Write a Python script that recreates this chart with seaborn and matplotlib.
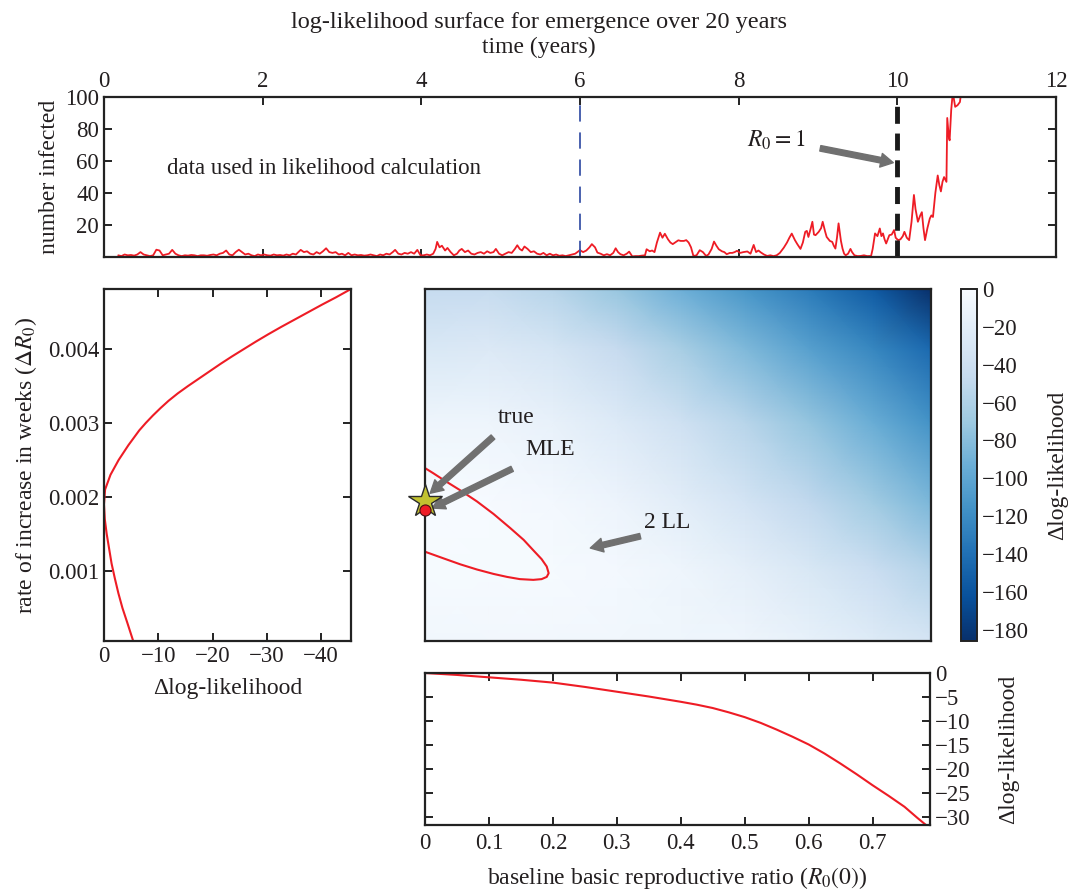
import numpy as np
import pandas as pd
import seaborn as sns
import matplotlib.pyplot as plt

# number infected over time
years = [0.18, 0.22, 0.26, 0.30, 0.34, 0.38, 0.42, 0.46, 0.50, 0.54, 0.58, 0.62, 0.66, 0.70, 0.74, 0.78,
         0.82, 0.86, 0.90, 0.94, 0.98, 1.02, 1.06, 1.10, 1.14, 1.18, 1.22, 1.26, 1.30, 1.34, 1.38, 1.42,
         1.46, 1.50, 1.54, 1.58, 1.62, 1.66, 1.70, 1.74, 1.78, 1.82, 1.86, 1.90, 1.94, 1.98, 2.02, 2.06,
         2.10, 2.14, 2.18, 2.22, 2.26, 2.30, 2.34, 2.38, 2.42, 2.45, 2.48, 2.52, 2.56, 2.60, 2.64, 2.68,
         2.72, 2.76, 2.80, 2.84, 2.88, 2.92, 2.96, 3.00, 3.04, 3.08, 3.12, 3.16, 3.20, 3.24, 3.28, 3.32,
         3.36, 3.40, 3.44, 3.48, 3.52, 3.56, 3.60, 3.64, 3.67, 3.71, 3.75, 3.79, 3.83, 3.87, 3.91, 3.95,
         3.99, 4.03, 4.07, 4.11, 4.15, 4.18, 4.20, 4.23, 4.26, 4.30, 4.33, 4.37, 4.41, 4.45, 4.48, 4.51,
         4.55, 4.59, 4.63, 4.67, 4.71, 4.75, 4.79, 4.83, 4.87, 4.91, 4.94, 4.98, 5.02, 5.06, 5.10, 5.14,
         5.18, 5.21, 5.24, 5.27, 5.30, 5.34, 5.38, 5.42, 5.46, 5.50, 5.54, 5.58, 5.62, 5.66, 5.70, 5.74,
         5.78, 5.82, 5.86, 5.90, 5.94, 6.00, 6.04, 6.08, 6.12, 6.15, 6.19, 6.22, 6.26, 6.30, 6.34, 6.38,
         6.42, 6.45, 6.48, 6.51, 6.55, 6.59, 6.62, 6.66, 6.70, 6.74, 6.78, 6.82, 6.84, 6.88, 6.91, 6.94,
         6.97, 7.01, 7.04, 7.07, 7.11, 7.14, 7.17, 7.20, 7.24, 7.27, 7.31, 7.34, 7.37, 7.40, 7.43, 7.47,
         7.51, 7.55, 7.59, 7.62, 7.66, 7.69, 7.72, 7.75, 7.79, 7.82, 7.85, 7.89, 7.92, 7.95, 7.98, 8.02,
         8.06, 8.11, 8.15, 8.19, 8.22, 8.25, 8.28, 8.32, 8.36, 8.40, 8.44, 8.48, 8.52, 8.57, 8.61, 8.64,
         8.67, 8.71, 8.74, 8.78, 8.81, 8.84, 8.86, 8.88, 8.91, 8.93, 8.95, 8.97, 9.01, 9.04, 9.06, 9.09,
         9.11, 9.15, 9.18, 9.20, 9.22, 9.24, 9.26, 9.29, 9.31, 9.33, 9.35, 9.38, 9.41, 9.43, 9.46, 9.50,
         9.54, 9.58, 9.62, 9.67, 9.69, 9.72, 9.75, 9.78, 9.80, 9.82, 9.84, 9.86, 9.88, 9.90, 9.93, 9.96,
         9.98, 10.01, 10.04, 10.07, 10.09, 10.12, 10.15, 10.18, 10.21, 10.23, 10.26, 10.29, 10.31, 10.33,
         10.35, 10.38, 10.41, 10.43, 10.45, 10.48, 10.51, 10.53, 10.55, 10.57, 10.59, 10.62, 10.63, 10.65,
         10.66, 10.68, 10.70, 10.73, 10.76, 10.79, 10.81, 10.84]
infected = [1, 0.5, 1.5, 1, 1.2, 0.8, 1.5, 3, 1.5, 1, 0.5, 1, 4.5, 4, 1, 1.5,
            2, 4.4, 2, 1, 0.5, 1, 0.8, 1.2, 1, 0.5, 1, 1, 0.7, 1.2, 1.5, 1,
            2, 2.5, 4, 1.5, 1, 3, 4.5, 3, 1.5, 2, 1, 0.5, 1.5, 1, 1.5, 1,
            0.8, 1.5, 1, 1.2, 0.8, 1.5, 1, 2, 1.5, 3, 4.4, 3, 3.5, 2, 1.5, 3,
            2, 3.5, 5.4, 3, 2.5, 3, 1.5, 2, 1, 2.5, 1, 1.5, 1, 1.2, 0.8, 1,
            1.5, 1, 0.5, 1.5, 1, 2, 1.5, 3, 4.4, 2, 1.5, 2.5, 2, 3, 2, 4.4,
            1, 1, 1.5, 1, 2, 5, 9.4, 6, 7, 4, 5.6, 3, 1, 2, 4, 5,
            3, 4, 2, 1.5, 2.5, 3, 2, 3.5, 2.5, 3, 5, 2, 1, 2, 3, 2.5,
            5, 7.3, 5, 4, 6.5, 5, 3, 3.5, 2, 1.5, 2.5, 1, 2, 1, 1.5, 0.7,
            1, 0.5, 1, 1.5, 2, 4.2, 3, 4, 6, 8, 6, 2.7, 2, 1, 1.7, 1,
            2.5, 5.4, 3, 1.7, 1, 2, 3.3, 0.3, 0.5, 0.5, 0.8, 1, 4.8, 3.5, 4, 3,
            9, 15.2, 12, 14.5, 11, 9, 8, 9, 10.4, 10, 10, 10.5, 9, 6, 0.6, 1,
            4.2, 3, 0.6, 1.5, 5, 9.6, 7, 4.8, 3.5, 3, 1.7, 2.5, 2.5, 3, 3.8, 2.5,
            3, 3.4, 2, 7.5, 3, 4, 2.8, 1.5, 0.6, 1, 0.5, 1, 2.5, 5.8, 9, 12,
            14.6, 10.5, 8, 5, 9, 15.7, 16.3, 12.5, 18, 22, 14, 13.6, 15.7, 18, 22, 16,
            12.5, 10, 9.4, 7, 5.2, 12, 21, 10, 5.2, 2, 1, 2, 5, 3, 1, 0.5,
            0.6, 1, 0.5, 0.6, 5, 14.7, 13, 17.8, 13, 14.7, 11, 8.4, 11, 13.6, 14, 16.8,
            12, 10.5, 11, 13, 15.7, 12, 10.5, 22, 38.8, 30, 22, 26, 28, 18,
            10.5, 18, 24, 26, 25, 40, 51, 45, 41, 47, 50, 47, 87, 75,
            73, 92, 103, 94, 95, 97, 105, 130]

# profile over rate of increase (left panel)
prof_rate = [0.00005, 0.0003, 0.0005, 0.0007, 0.0009, 0.0011, 0.0013, 0.0015, 0.0017, 0.0019,
             0.0021, 0.0022, 0.0023, 0.0024, 0.0025, 0.0026, 0.0027, 0.0028, 0.0029, 0.0030,
             0.0031, 0.0032, 0.0033, 0.0034, 0.0035, 0.0036, 0.0037, 0.0038, 0.0039, 0.0040,
             0.0041, 0.0042, 0.0043, 0.0044, 0.0045, 0.0046, 0.0047, 0.00481]
prof_rate_ll = [-5.4, -4.3, -3.4, -2.65, -2.0, -1.4, -0.95, -0.5, -0.15, 0.0,
                -0.2, -0.7, -1.2, -1.95, -2.7, -3.6, -4.5, -5.5, -6.5, -7.7,
                -9.0, -10.4, -11.9, -13.6, -15.5, -17.5, -19.5, -21.5, -23.6, -25.8,
                -28.0, -30.3, -32.7, -35.2, -37.7, -40.2, -42.8, -45.5]

# profile over baseline R0 (bottom panel)
prof_r0 = [0.0, 0.025, 0.05, 0.075, 0.1, 0.125, 0.15, 0.175, 0.2, 0.225, 0.25, 0.275, 0.3, 0.325,
           0.35, 0.375, 0.4, 0.425, 0.45, 0.475, 0.5, 0.525, 0.55, 0.575, 0.6, 0.625, 0.65, 0.675,
           0.7, 0.725, 0.75, 0.77, 0.79]
prof_r0_ll = [0.0, -0.2, -0.4, -0.65, -0.9, -1.15, -1.4, -1.7, -2.0, -2.45, -2.9, -3.4, -3.9, -4.4,
              -4.9, -5.45, -6.0, -6.6, -7.3, -8.2, -9.2, -10.4, -11.8, -13.3, -14.9, -16.8, -18.9, -21.1,
              -23.4, -25.6, -27.9, -30.2, -32.4]

# log-likelihood surface, coarse grid
surf_r0 = [0.0, 0.1, 0.2, 0.3, 0.4, 0.5, 0.6, 0.7, 0.79]
surf_rate = [0.00005, 0.001, 0.0019, 0.003, 0.004, 0.0048]
surf_ll = [
    [-6.5, -5.4, -5.5, -6.0, -7.5, -9.2, -14.9, -23.4, -32.4],
    [-1.7, -1.5, -1.8, -4.0, -9.0, -17.0, -28.0, -42.0, -57.0],
    [0.0, -1.0, -4.0, -10.0, -20.0, -33.0, -49.0, -67.0, -85.0],
    [-9.0, -9.0, -14.0, -24.0, -38.0, -55.0, -74.0, -94.0, -115.0],
    [-28.0, -26.0, -32.0, -46.0, -64.0, -84.0, -104.0, -124.0, -145.0],
    [-47.0, -45.5, -55.0, -72.0, -92.0, -112.0, -132.0, -155.0, -186.0],
]

# 2 log-likelihood contour
ell_r0 = [0.0, 0.013, 0.029, 0.055, 0.081, 0.107, 0.133, 0.154, 0.169, 0.182, 0.190, 0.193,
          0.190, 0.182, 0.169, 0.148, 0.128, 0.107, 0.081, 0.055, 0.029, 0.0]
ell_rate = [0.00239, 0.00232, 0.00223, 0.00209, 0.00194, 0.00177, 0.00158, 0.00142, 0.00128,
            0.00116, 0.00106, 0.00097, 0.00092, 0.00089, 0.00088, 0.00089, 0.00092, 0.00096,
            0.00102, 0.00109, 0.00117, 0.00126]

true_pt = (0.0, 0.00194)
mle_pt = (0.0, 0.00182)

sns.set_style("ticks", {"xtick.direction": "in", "ytick.direction": "in"})
plt.rcParams['font.family'] = ['Liberation Serif', 'DejaVu Serif']
plt.rcParams['mathtext.fontset'] = 'stix'
plt.rcParams['font.size'] = 17
plt.rcParams['axes.labelsize'] = 17
plt.rcParams['axes.edgecolor'] = '#222222'
plt.rcParams['axes.linewidth'] = 1.6
plt.rcParams['text.color'] = '#231f20'
plt.rcParams['axes.labelcolor'] = '#231f20'
plt.rcParams['xtick.color'] = '#222222'
plt.rcParams['ytick.color'] = '#222222'
plt.rcParams['xtick.labelcolor'] = '#231f20'
plt.rcParams['ytick.labelcolor'] = '#231f20'

red = '#ee1c25'
arrow = dict(facecolor='#707070', edgecolor='#707070', width=4, headwidth=10, headlength=9, shrink=0)

fig = plt.figure(figsize=(10.72, 8.92), dpi=100)
ax_ts = fig.add_axes([0.097, 0.712, 0.888, 0.179])
ax_py = fig.add_axes([0.097, 0.2814, 0.2304, 0.3946])
ax_s = fig.add_axes([0.3965, 0.2814, 0.472, 0.3946])
cax = fig.add_axes([0.8965, 0.2814, 0.0149, 0.3946])
ax_px = fig.add_axes([0.3965, 0.0751, 0.4711, 0.1704])


def style_ticks(ax):
    ax.tick_params(which='both', direction='in', length=6, width=1.4,
                   top=True, bottom=True, left=True, right=True, labelsize=16.5)


# top panel: time series
ts = pd.DataFrame({'years': years, 'infected': infected})
sns.lineplot(data=ts, x='years', y='infected', ax=ax_ts, color=red, lw=1.3,
             sort=False, estimator=None)
ax_ts.axvline(6, color='#3b55a8', lw=1.3, ls=(0, (9, 6)))
ax_ts.axvline(10, color='#1a1a1a', lw=3.5, ls=(0, (3.5, 2)))
ax_ts.set_xlim(0, 12)
ax_ts.set_ylim(0, 100)
ax_ts.set_xticks(range(0, 13, 2))
ax_ts.set_yticks(range(20, 101, 20))
style_ticks(ax_ts)
ax_ts.tick_params(labeltop=True, labelbottom=False)
ax_ts.set_xlabel('')
ax_ts.set_ylabel('number infected', labelpad=4)
ax_ts.text(2.77, 55.6, 'data used in likelihood calculation', ha='center', va='center', fontsize=16.5)
ax_ts.text(8.48, 73, r'$R_0 = 1$', ha='center', va='center', fontsize=17)
ax_ts.annotate('', xy=(9.95, 59), xytext=(9.03, 68), arrowprops=arrow)

fig.text(0.503, 0.975, 'log-likelihood surface for emergence over 20 years',
         ha='center', va='center', fontsize=17.5)
fig.text(0.503, 0.947, 'time (years)', ha='center', va='center', fontsize=17)

# left panel: profile over rate
py = pd.DataFrame({'ll': prof_rate_ll, 'rate': prof_rate})
sns.lineplot(data=py, x='ll', y='rate', ax=ax_py, color=red, lw=1.5, sort=False, estimator=None)
ax_py.set_xlim(0, -45.5)
ax_py.set_ylim(0.000054, 0.00481)
ax_py.set_xticks([0, -10, -20, -30, -40])
ax_py.set_yticks([0.001, 0.002, 0.003, 0.004])
ax_py.set_yticklabels(['0.001', '0.002', '0.003', '0.004'])
style_ticks(ax_py)
ax_py.set_xlabel('Δlog-likelihood', labelpad=8)
ax_py.set_ylabel(r'rate of increase in weeks ($\Delta R_0$)', labelpad=6)

# surface
mesh = ax_s.pcolormesh(surf_r0, surf_rate, np.array(surf_ll), shading='gouraud',
                       cmap='Blues_r', vmin=-186, vmax=0, rasterized=True)
ell = pd.DataFrame({'r0': ell_r0, 'rate': ell_rate})
sns.lineplot(data=ell, x='r0', y='rate', ax=ax_s, color=red, lw=1.5, sort=False, estimator=None)
ax_s.plot(*true_pt, marker='*', ms=25, mfc='#c2c230', mec='#2a2a2a', mew=1.0, clip_on=False, zorder=5)
ax_s.plot(*mle_pt, marker='o', ms=8, mfc=red, mec='#4a1010', mew=0.8, clip_on=False, zorder=6)
ax_s.set_xlim(0, 0.79)
ax_s.set_ylim(0.000054, 0.00481)
ax_s.set_xticks([0.1, 0.2, 0.3, 0.4, 0.5, 0.6, 0.7])
ax_s.set_yticks([0.001, 0.002, 0.003, 0.004])
style_ticks(ax_s)
ax_s.tick_params(labelbottom=False, labelleft=False)
ax_s.set_xlabel('')
ax_s.set_ylabel('')
ax_s.text(0.142, 0.00308, 'true', ha='center', va='center')
ax_s.annotate('', xy=(0.008, 0.00205), xytext=(0.106, 0.00281), arrowprops=arrow)
ax_s.text(0.195, 0.00264, 'MLE', ha='center', va='center')
ax_s.annotate('', xy=(0.011, 0.00185), xytext=(0.136, 0.00238), arrowprops=arrow)
ax_s.text(0.378, 0.00165, '2 LL', ha='center', va='center')
ax_s.annotate('', xy=(0.258, 0.00131), xytext=(0.336, 0.00147), arrowprops=arrow)

cb = fig.colorbar(mesh, cax=cax)
cb.set_ticks(list(range(0, -181, -20)))
cb.ax.tick_params(direction='in', length=5, width=1.2, labelsize=16.5)
cb.outline.set_linewidth(1.4)
cb.set_label('Δlog-likelihood', labelpad=13)

# bottom panel: profile over baseline R0
px = pd.DataFrame({'r0': prof_r0, 'll': prof_r0_ll})
sns.lineplot(data=px, x='r0', y='ll', ax=ax_px, color=red, lw=1.5, sort=False, estimator=None)
ax_px.set_xlim(0, 0.79)
ax_px.set_ylim(-31.7, 0)
ax_px.set_xticks([0, 0.1, 0.2, 0.3, 0.4, 0.5, 0.6, 0.7])
ax_px.set_xticklabels(['0', '0.1', '0.2', '0.3', '0.4', '0.5', '0.6', '0.7'])
ax_px.set_yticks([0, -5, -10, -15, -20, -25, -30])
style_ticks(ax_px)
ax_px.tick_params(axis='x', pad=6)
ax_px.tick_params(labelleft=False, labelright=True)
ax_px.yaxis.set_label_position('right')
ax_px.set_ylabel('Δlog-likelihood', labelpad=20)
ax_px.set_xlabel(r'baseline basic reproductive ratio ($R_0(0)$)', labelpad=8)

fig.savefig('out.png', dpi=100)
